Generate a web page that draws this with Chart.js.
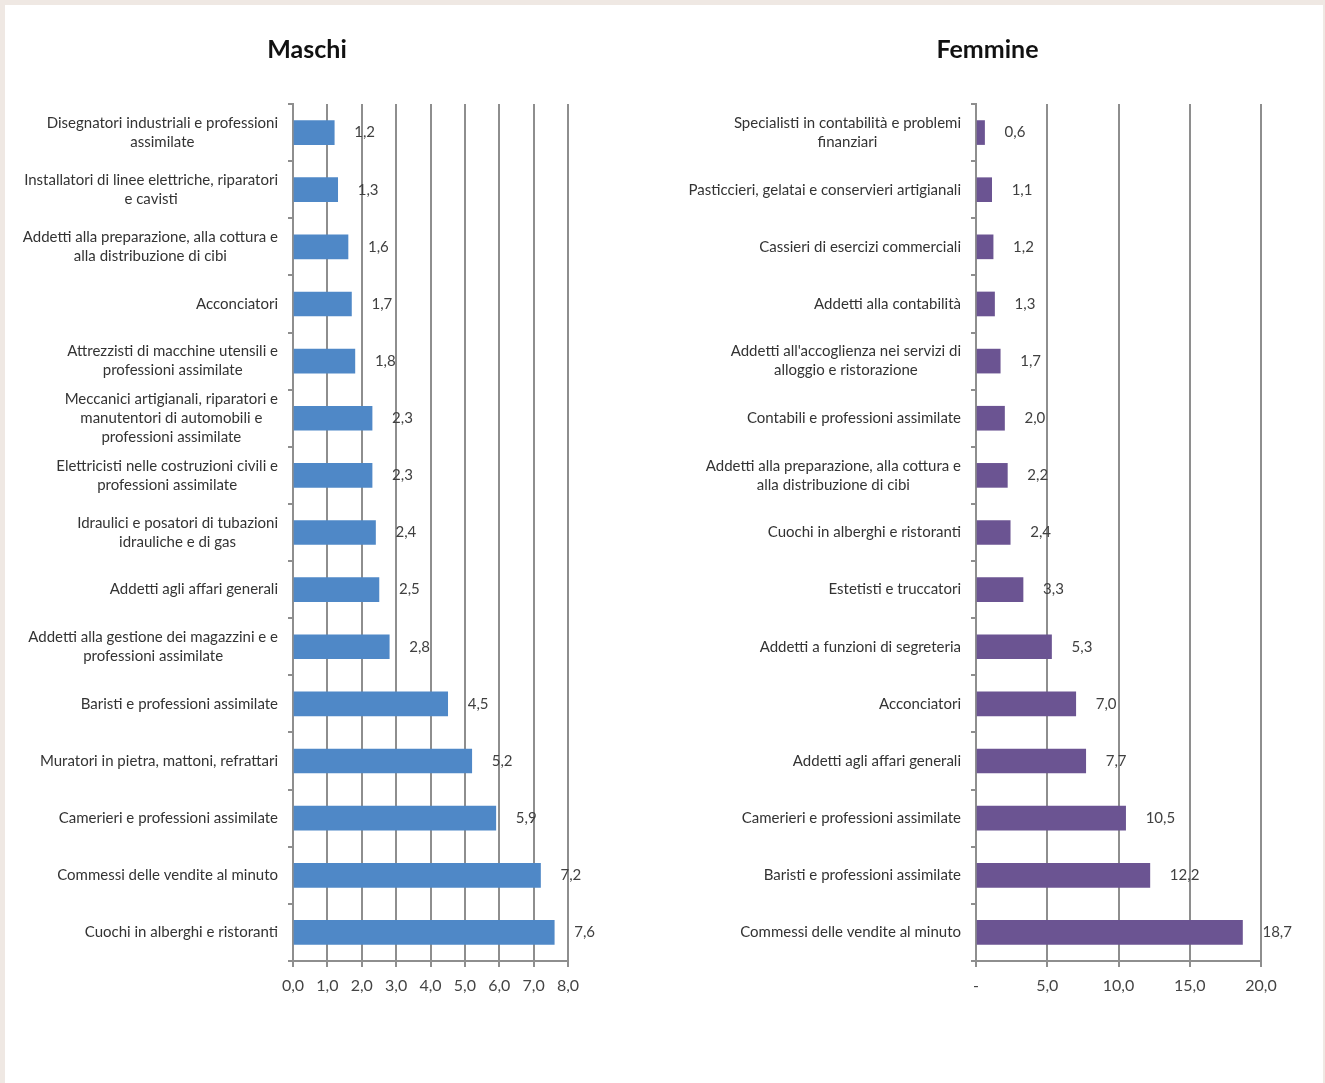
<!DOCTYPE html>
<html>
<head>
<meta charset="utf-8">
<script src="https://cdn.jsdelivr.net/npm/chart.js@4"></script>
<style>
  html, body { margin: 0; padding: 0; }
  body { width: 1325px; height: 1083px; background: #efe8e3; position: relative; overflow: hidden; }
  #panel { position: absolute; left: 5px; top: 5px; width: 1318px; height: 1078px; background: #ffffff; }
  #c1 { position: absolute; left: 0; top: 0; }
  #c2 { position: absolute; left: 650px; top: 0; }
</style>
</head>
<body>
<div id="panel"></div>
<canvas id="c1" width="614" height="1083"></canvas>
<canvas id="c2" width="675" height="1083"></canvas>
<script>
// ---- Data ----
const maschiLabels = [
  ["Disegnatori industriali e professioni", "assimilate"],
  ["Installatori di linee elettriche, riparatori", "e cavisti"],
  ["Addetti alla preparazione, alla cottura e", "alla distribuzione di cibi"],
  ["Acconciatori"],
  ["Attrezzisti di macchine utensili e", "professioni assimilate"],
  ["Meccanici artigianali, riparatori e", "manutentori di automobili e", "professioni assimilate"],
  ["Elettricisti nelle costruzioni civili e", "professioni assimilate"],
  ["Idraulici e posatori di tubazioni", "idrauliche e di gas"],
  ["Addetti agli affari generali"],
  ["Addetti alla gestione dei magazzini e e", "professioni assimilate"],
  ["Baristi e professioni assimilate"],
  ["Muratori in pietra, mattoni, refrattari"],
  ["Camerieri e professioni assimilate"],
  ["Commessi delle vendite al minuto"],
  ["Cuochi in alberghi e ristoranti"]
];
const maschiValues = [1.2, 1.3, 1.6, 1.7, 1.8, 2.3, 2.3, 2.4, 2.5, 2.8, 4.5, 5.2, 5.9, 7.2, 7.6];

const femmineLabels = [
  ["Specialisti in contabilità e problemi", "finanziari"],
  ["Pasticcieri, gelatai e conservieri artigianali"],
  ["Cassieri di esercizi commerciali"],
  ["Addetti alla contabilità"],
  ["Addetti all'accoglienza nei servizi di", "alloggio e ristorazione"],
  ["Contabili e professioni assimilate"],
  ["Addetti alla preparazione, alla cottura e", "alla distribuzione di cibi"],
  ["Cuochi in alberghi e ristoranti"],
  ["Estetisti e truccatori"],
  ["Addetti a funzioni di segreteria"],
  ["Acconciatori"],
  ["Addetti agli affari generali"],
  ["Camerieri e professioni assimilate"],
  ["Baristi e professioni assimilate"],
  ["Commessi delle vendite al minuto"]
];
const femmineValues = [0.6, 1.1, 1.2, 1.3, 1.7, 2.0, 2.2, 2.4, 3.3, 5.3, 7.0, 7.7, 10.5, 12.2, 18.7];

const maschiTicks = { min: 0, max: 8, step: 1 };
const femmineTicks = { min: 0, max: 20, step: 5 };

// ---- Helpers ----
const FONT = "Lato, 'Open Sans', sans-serif";
const GRID = '#8e8e8e';
const fmt = v => v.toFixed(1).replace('.', ',');

const valueLabelPlugin = {
  id: 'valueLabels',
  afterDatasetsDraw(chart) {
    const ctx = chart.ctx;
    const meta = chart.getDatasetMeta(0);
    const data = chart.data.datasets[0].data;
    ctx.save();
    ctx.font = "15px " + FONT;
    ctx.fillStyle = '#404040';
    ctx.textAlign = 'left';
    ctx.textBaseline = 'middle';
    meta.data.forEach((bar, i) => {
      ctx.fillText(fmt(data[i]), bar.x + 20, bar.y);
    });
    ctx.restore();
  }
};

const categoryLabelPlugin = {
  id: 'categoryLabels',
  afterDraw(chart) {
    const ctx = chart.ctx;
    const scale = chart.scales.y;
    const labels = chart.data.labels;
    const lh = 19;
    ctx.save();
    ctx.font = "15px " + FONT;
    ctx.fillStyle = '#333333';
    ctx.textAlign = 'center';
    ctx.textBaseline = 'middle';
    const right = scale.right - 15;
    labels.forEach((lines, i) => {
      const y = scale.getPixelForTick(i);
      const w = Math.max(...lines.map(l => ctx.measureText(l).width));
      const cx = right - w / 2;
      const y0 = y - (lines.length - 1) * lh / 2;
      lines.forEach((l, j) => ctx.fillText(l, cx, y0 + j * lh));
    });
    ctx.restore();
  }
};

function makeChart(id, title, labels, values, color, ticksCfg, yWidth, padRight, tickFmt) {
  return new Chart(document.getElementById(id), {
    type: 'bar',
    data: {
      labels: labels,
      datasets: [{
        data: values,
        backgroundColor: color,
        borderWidth: 0,
        barThickness: 24
      }]
    },
    options: {
      indexAxis: 'y',
      responsive: false,
      animation: false,
      devicePixelRatio: 1,
      layout: { padding: { top: 0, left: 0, right: 0, bottom: 82 } },
      plugins: {
        legend: { display: false },
        tooltip: { enabled: false },
        title: {
          display: true,
          text: title,
          color: '#111111',
          font: { family: FONT, size: 25, weight: 'bold', lineHeight: 1.2 },
          padding: { top: 35, bottom: 39 }
        }
      },
      scales: {
        x: {
          min: ticksCfg.min,
          max: ticksCfg.max,
          ticks: {
            stepSize: ticksCfg.step,
            color: '#444444',
            font: { family: FONT, size: 16 },
            padding: 9,
            maxRotation: 0,
            callback: tickFmt
          },
          grid: { color: GRID, lineWidth: 2, tickLength: 6, drawTicks: true },
          border: { display: true, color: GRID, width: 2 },
          afterFit(scale) { scale.height = 40; scale.paddingLeft = 0; scale.paddingRight = padRight; }
        },
        y: {
          ticks: { display: false },
          grid: { drawOnChartArea: false, drawTicks: true, tickLength: 5, color: GRID, lineWidth: 2, offset: true },
          border: { display: true, color: GRID, width: 2 },
          afterFit(scale) { scale.width = yWidth; scale.paddingTop = 0; scale.paddingBottom = 0; }
        }
      }
    },
    plugins: [valueLabelPlugin, categoryLabelPlugin]
  });
}

makeChart('c1', 'Maschi', maschiLabels, maschiValues, '#4f88c7', maschiTicks, 293, 46,
  v => fmt(v));
makeChart('c2', 'Femmine', femmineLabels, femmineValues, '#6b5492', femmineTicks, 326, 64,
  v => v === 0 ? '-' : fmt(v));
</script>
</body>
</html>
